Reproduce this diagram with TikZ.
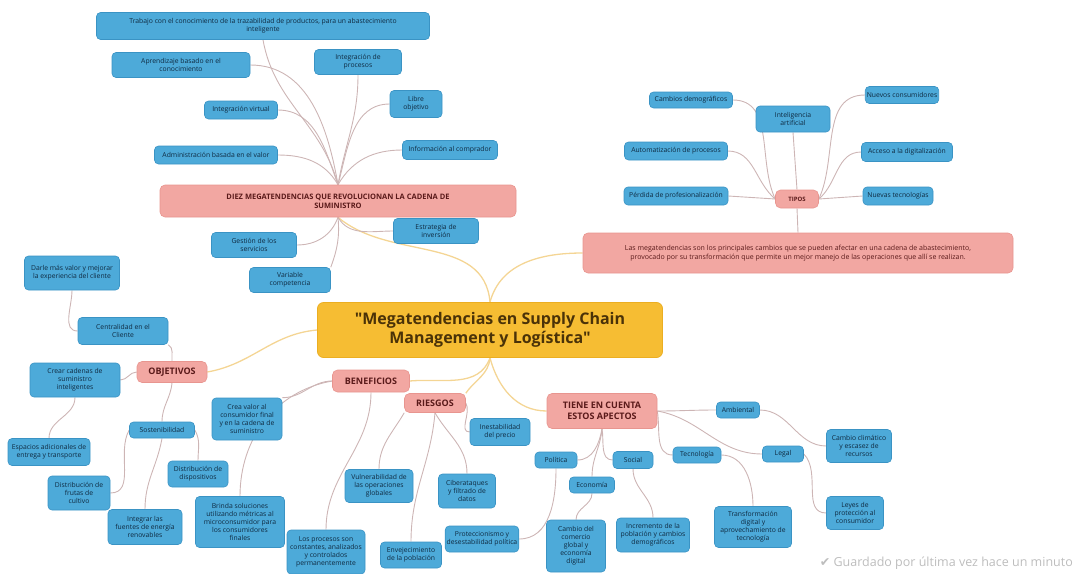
\documentclass[tikz,border=0pt]{standalone}
\usepackage{fontspec}
\setmainfont{Open Sans}[Ligatures=TeXOff]
\newfontfamily\symfont{DejaVu Sans}
\usetikzlibrary{backgrounds}
\definecolor{leafblue}{HTML}{4DAAD9}
\definecolor{leafedge}{HTML}{3A93C4}
\definecolor{leafink}{HTML}{0F2A40}
\definecolor{branchpink}{HTML}{F2A7A2}
\definecolor{branchedge}{HTML}{E8958F}
\definecolor{branchink}{HTML}{5A1A1A}
\definecolor{hubgold}{HTML}{F6BD33}
\definecolor{hubedge}{HTML}{EBAE22}
\definecolor{hubink}{HTML}{4A3208}
\definecolor{twigcol}{HTML}{CDB5B5}
\definecolor{limbcol}{HTML}{F4D594}
\definecolor{savedgray}{HTML}{BDBDBD}
\tikzset{
  leaf/.style={rounded corners=4pt,fill=leafblue,draw=leafedge,line width=0.6pt,text=leafink,
    align=center,font=\fontsize{6.8}{8}\selectfont,inner sep=1.5pt},
  branch/.style={rounded corners=5pt,fill=branchpink,draw=branchedge,line width=0.6pt,text=branchink,
    align=center,font=\bfseries\fontsize{9}{11}\selectfont,inner sep=2pt},
  hub/.style={rounded corners=6pt,fill=hubgold,draw=hubedge,line width=0.8pt,text=hubink,
    align=center,font=\bfseries\fontsize{16}{19}\selectfont},
  twig/.style={draw=twigcol,line width=0.9pt},
  limb/.style={draw=limbcol,line width=1.3pt}
}
\begin{document}
\begin{tikzpicture}[x=1pt,y=1pt]
\useasboundingbox (0,0) rectangle (1075,-573);
% centre
\node[hub,minimum width=345,minimum height=55] (mega) at (490,-330)
  {"Megatendencias en Supply Chain\\Management y Logística"};
% diez megatendencias
\node[branch,minimum width=356,minimum height=32,font=\bfseries\fontsize{7.5}{9}\selectfont] (diez) at (338,-201)
  {DIEZ MEGATENDENCIAS QUE REVOLUCIONAN LA CADENA DE\\SUMINISTRO};
\node[leaf,minimum width=333,minimum height=27] (banner) at (263,-26)
  {Trabajo con el conocimiento de la trazabilidad de productos, para un abastecimiento\\inteligente};
\node[leaf,minimum width=138,minimum height=25] (aprend) at (181,-65) {Aprendizaje basado en el\\conocimiento};
\node[leaf,minimum width=87,minimum height=25] (integproc) at (358,-62) {Integración de\\procesos};
\node[leaf,minimum width=73,minimum height=18] (integvirt) at (241,-110) {Integración virtual};
\node[leaf,minimum width=52,minimum height=27] (libre) at (416,-104) {Libre\\objetivo};
\node[leaf,minimum width=123,minimum height=18] (admin) at (216,-155) {Administración basada en el valor};
\node[leaf,minimum width=95,minimum height=19] (info) at (450,-150) {Información al comprador};
\node[leaf,minimum width=85,minimum height=25] (estrategia) at (436,-231) {Estrategia de\\inversión};
\node[leaf,minimum width=85,minimum height=25] (gestion) at (254,-245) {Gestión de los\\servicios};
\node[leaf,minimum width=81,minimum height=25] (variable) at (290,-280) {Variable\\competencia};
% tipos
\node[branch,minimum width=430,minimum height=40,font=\fontsize{7}{8.5}\selectfont] (desc) at (798,-253)
  {Las megatendencias son los principales cambios que se pueden afectar en una cadena de abastecimiento,\\
   provocado por su transformación que permite un mejor manejo de las operaciones que allí se realizan.};
\node[branch,minimum width=43,minimum height=18,font=\bfseries\fontsize{6}{7}\selectfont] (tipos) at (797,-199) {TIPOS};
\node[leaf,minimum width=83,minimum height=16] (cambdem) at (691,-100) {Cambios demográficos};
\node[leaf,minimum width=74,minimum height=26] (ia) at (793,-119) {Inteligencia\\artificial};
\node[leaf,minimum width=70,minimum height=17] (nuevcons) at (902,-95) {Nuevos consumidores};
\node[leaf,minimum width=103,minimum height=18] (autom) at (676,-151) {Automatización de procesos};
\node[leaf,minimum width=91,minimum height=19] (acceso) at (907,-152) {Acceso a la digitalización};
\node[leaf,minimum width=104,minimum height=18] (perdida) at (676,-196) {Pérdida de profesionalización};
\node[leaf,minimum width=70,minimum height=18] (nuevtec) at (898,-196) {Nuevas tecnologías};
% objetivos
\node[branch,minimum width=70,minimum height=21] (objetivos) at (172,-372) {OBJETIVOS};
\node[leaf,minimum width=95,minimum height=34] (darle) at (72,-273) {Darle más valor y mejorar\\la experiencia del cliente};
\node[leaf,minimum width=90,minimum height=27] (centralidad) at (123,-331) {Centralidad en el\\Cliente};
\node[leaf,minimum width=90,minimum height=34] (crear) at (75,-380) {Crear cadenas de\\suministro\\inteligentes};
\node[leaf,minimum width=82,minimum height=27] (espacios) at (49,-452) {Espacios adicionales de\\entrega y transporte};
\node[leaf,minimum width=65,minimum height=16] (sost) at (162,-430) {Sostenibilidad};
\node[leaf,minimum width=60,minimum height=26] (dispos) at (198,-474) {Distribución de\\dispositivos};
\node[leaf,minimum width=62,minimum height=34] (frutas) at (79,-493) {Distribución de\\frutas de\\cultivo};
\node[leaf,minimum width=74,minimum height=35] (integrar) at (145,-527) {Integrar las\\fuentes de energía\\renovables};
% beneficios
\node[branch,minimum width=77,minimum height=22] (beneficios) at (371,-381) {BENEFICIOS};
\node[leaf,minimum width=70,minimum height=42] (creavalor) at (247,-419) {Crea valor al\\consumidor final\\y en la cadena de\\suministro};
\node[leaf,minimum width=89,minimum height=51] (brinda) at (240,-522) {Brinda soluciones\\utilizando métricas al\\microconsumidor para\\los consumidores\\finales};
\node[leaf,minimum width=78,minimum height=44] (procesos) at (326,-552) {Los procesos son\\constantes, analizados\\y controlados\\permanentemente};
% riesgos
\node[branch,minimum width=61,minimum height=19] (riesgos) at (435,-403) {RIESGOS};
\node[leaf,minimum width=68,minimum height=33] (vuln) at (379,-486) {Vulnerabilidad de\\las operaciones\\globales};
\node[leaf,minimum width=57,minimum height=34] (ciber) at (467,-491) {Ciberataques\\y filtrado de\\datos};
\node[leaf,minimum width=61,minimum height=26] (envej) at (411,-555) {Envejecimiento\\de la población};
\node[leaf,minimum width=60,minimum height=27] (inest) at (500,-432) {Inestabilidad\\del precio};
% aspectos
\node[branch,minimum width=110,minimum height=35] (tiene) at (602,-411) {TIENE EN CUENTA\\ESTOS APECTOS};
\node[leaf,minimum width=42,minimum height=16] (politica) at (556,-460) {Política};
\node[leaf,minimum width=45,minimum height=16] (economia) at (592,-485) {Economía};
\node[leaf,minimum width=40,minimum height=17] (social) at (633,-460) {Social};
\node[leaf,minimum width=43,minimum height=16] (ambiental) at (738,-410) {Ambiental};
\node[leaf,minimum width=48,minimum height=16] (tecno) at (697,-455) {Tecnología};
\node[leaf,minimum width=41,minimum height=16] (legal) at (783,-454) {Legal};
\node[leaf,minimum width=71,minimum height=26] (protecc) at (482,-539) {Proteccionismo y\\desestabilidad política};
\node[leaf,minimum width=59,minimum height=52] (cambiocom) at (576,-546) {Cambio del\\comercio\\global y\\economía\\digital};
\node[leaf,minimum width=73,minimum height=34] (incremento) at (653,-535) {Incremento de la\\población y cambios\\demográficos};
\node[leaf,minimum width=65,minimum height=33] (climatico) at (859,-446) {Cambio climático\\y escasez de\\recursos};
\node[leaf,minimum width=57,minimum height=33] (leyes) at (855,-513) {Leyes de\\protección al\\consumidor};
\node[leaf,minimum width=77,minimum height=41] (transf) at (753,-527) {Transformación\\digital y\\aprovechamiento de\\tecnología};
\node[text=savedgray,font=\fontsize{12.5}{14}\selectfont,anchor=east,inner sep=0pt] (saved) at (1073,-563)
  {{\symfont ✔} Guardado por última vez hace un minuto};
% connectors
\begin{scope}[on background layer]
\draw[limb] (diez.south) to[out=-40,in=95] (mega.north);
\draw[limb] (mega.north) to[out=75,in=180] (desc.west);
\draw[limb] (mega.west) to[out=185,in=10] (objetivos.east);
\draw[limb] (mega.south) to[out=-110,in=5] (beneficios.east);
\draw[limb] (mega.south) to[out=-95,in=55] (riesgos.north east);
\draw[limb] (mega.south) to[out=-75,in=180] (tiene.west);
\draw[twig] (diez.north) to[out=105,in=-80] (banner.south);
\draw[twig] (diez.north) to[out=100,in=0] (aprend.east);
\draw[twig] (diez.north) to[out=80,in=-90] (integproc.south);
\draw[twig] (diez.north) to[out=110,in=0] (integvirt.east);
\draw[twig] (diez.north) to[out=75,in=180] (libre.west);
\draw[twig] (diez.north) to[out=120,in=0] (admin.east);
\draw[twig] (diez.north) to[out=60,in=180] (info.west);
\draw[twig] (diez.south) to[out=-60,in=180] (estrategia.west);
\draw[twig] (diez.south) to[out=-110,in=0] (gestion.east);
\draw[twig] (diez.south) to[out=-85,in=70] (variable.north east);
\draw[twig] (desc.north) -- (tipos.south);
\draw[twig] (tipos.north) -- (ia.south);
\draw[twig] (tipos.west) to[out=115,in=0] (cambdem.east);
\draw[twig] (tipos.west) to[out=140,in=0] (autom.east);
\draw[twig] (tipos.west) -- (perdida.east);
\draw[twig] (tipos.east) to[out=65,in=180] (nuevcons.west);
\draw[twig] (tipos.east) to[out=40,in=180] (acceso.west);
\draw[twig] (tipos.east) -- (nuevtec.west);
\draw[twig] (objetivos.north) to[out=95,in=-30] (centralidad.south east);
\draw[twig] (objetivos.west) to[out=180,in=0] (crear.east);
\draw[twig] (objetivos.south) to[out=-95,in=90] (sost.north);
\draw[twig] (centralidad.west) to[out=180,in=-90] (darle.south);
\draw[twig] (crear.south) to[out=-90,in=90] (espacios.north);
\draw[twig] (sost.west) to[out=-120,in=0] (frutas.east);
\draw[twig] (sost.south) to[out=-100,in=90] (integrar.north);
\draw[twig] (sost.east) to[out=-60,in=90] (dispos.north);
\draw[twig] (beneficios.west) to[out=180,in=0] (creavalor.north east);
\draw[twig] (beneficios.west) to[out=190,in=90] (brinda.north);
\draw[twig] (beneficios.south) to[out=-90,in=90] (procesos.north);
\draw[twig] (riesgos.south west) to[out=-120,in=90] (vuln.north);
\draw[twig] (riesgos.south) to[out=-95,in=90] (envej.north);
\draw[twig] (riesgos.south) to[out=-60,in=90] (ciber.north);
\draw[twig] (riesgos.east) to[out=-60,in=180] (inest.west);
\draw[twig] (tiene.south) to[out=-100,in=0] (politica.east);
\draw[twig] (tiene.south) to[out=-95,in=90] (economia.north);
\draw[twig] (tiene.south) to[out=-80,in=180] (social.west);
\draw[twig] (tiene.east) to[out=-80,in=180] (tecno.west);
\draw[twig] (tiene.east) to[out=0,in=180] (ambiental.west);
\draw[twig] (tiene.east) to[out=-10,in=180] (legal.west);
\draw[twig] (politica.south) to[out=-90,in=0] (protecc.east);
\draw[twig] (economia.south) to[out=-90,in=90] (cambiocom.north);
\draw[twig] (social.south) to[out=-90,in=90] (incremento.north);
\draw[twig] (tecno.east) to[out=0,in=90] (transf.north);
\draw[twig] (ambiental.east) to[out=0,in=180] (climatico.west);
\draw[twig] (legal.east) to[out=-45,in=180] (leyes.west);
\end{scope}
\end{tikzpicture}
\end{document}
